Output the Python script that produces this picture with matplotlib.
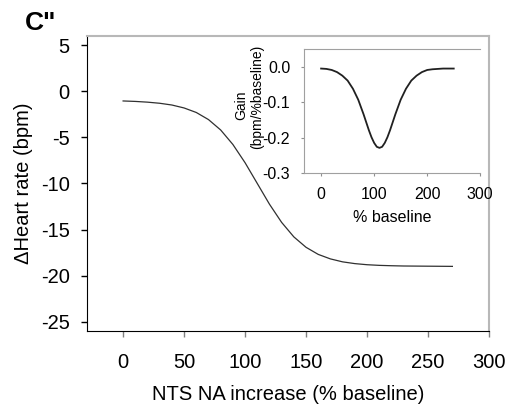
import matplotlib.pyplot as plt

plt.rcParams['font.family'] = ['Liberation Sans', 'DejaVu Sans']

# heart rate response vs NTS noradrenaline increase
nts_pct = [0, 10, 20, 30, 40, 50, 60, 70, 80, 90, 100, 110, 120, 130, 140,
           150, 160, 170, 180, 190, 200, 210, 220, 230, 240, 250, 260, 270]
dhr = [-1.05, -1.1, -1.18, -1.3, -1.49, -1.81, -2.3, -3.07, -4.2, -5.77, -7.75,
       -10.0, -12.25, -14.23, -15.8, -16.93, -17.7, -18.19, -18.51, -18.7,
       -18.82, -18.89, -18.93, -18.96, -18.97, -18.98, -18.99, -19.0]

# gain curve (slope of the response)
gain_pct = [0, 10, 20, 30, 40, 50, 60, 70, 80, 90, 95, 100, 105, 110, 115, 120,
            125, 130, 140, 150, 160, 170, 180, 190, 200, 210, 220, 230, 240, 250]
gain = [-0.005, -0.006, -0.009, -0.015, -0.025, -0.039, -0.062, -0.093, -0.134,
        -0.179, -0.199, -0.215, -0.226, -0.229, -0.226, -0.215, -0.199, -0.179,
        -0.134, -0.093, -0.062, -0.039, -0.025, -0.015, -0.009, -0.007, -0.006,
        -0.005, -0.005, -0.005]

main_xticks = [0, 50, 100, 150, 200, 250, 300]
main_yticks = [5, 0, -5, -10, -15, -20, -25]
inset_xticks = [0, 100, 200, 300]
inset_yticks = [0.0, -0.1, -0.2, -0.3]

fig = plt.figure(figsize=(5.12, 4.09), dpi=100)

# main panel
ax = fig.add_axes([0.169, 0.191, 0.786, 0.721])
ax.plot(nts_pct, dhr, color='#303030', lw=0.9)
ax.set_xlim(-30, 300)
ax.set_ylim(-26, 6)
ax.set_xticks(main_xticks)
ax.set_yticks(main_yticks)
ax.set_yticklabels([str(t) for t in main_yticks])
ax.tick_params(axis='both', labelsize=14.5, direction='out', length=4, width=1, pad=8)
ax.tick_params(axis='x', color='#808080', pad=12)
ax.spines['top'].set_color('#b8b8b8')
ax.spines['right'].set_color('#b8b8b8')
ax.spines['top'].set_linewidth(1.5)
ax.spines['right'].set_linewidth(1.5)
ax.set_xlabel('NTS NA increase (% baseline)', fontsize=14.5, labelpad=9)
ax.set_ylabel('\u0394Heart rate (bpm)', fontsize=14.5, labelpad=6)

fig.text(25 / 512, 1 - 23 / 409, 'C"', fontsize=19, fontweight='bold', va='center')

# inset: gain
axin = fig.add_axes([0.594, 0.577, 0.344, 0.303])
axin.plot(gain_pct, gain, color='#202020', lw=1.3)
axin.set_xlim(-32, 300)
axin.set_ylim(-0.3, 0.05)
axin.set_xticks(inset_xticks)
axin.set_yticks(inset_yticks)
axin.set_yticklabels(['0.0', '-0.1', '-0.2', '-0.3'])
axin.tick_params(axis='both', labelsize=11.5, direction='out', length=2,
                 color='#909090', pad=8)
axin.spines['right'].set_visible(False)
for s in ['top', 'bottom', 'left']:
    axin.spines[s].set_color('#a0a0a0')
axin.set_xlabel('% baseline', fontsize=11.5, labelpad=6)

fig.text(241 / 512, 1 - 105 / 409, 'Gain', fontsize=10, rotation=90,
         ha='center', va='center')
fig.text(257 / 512, 1 - 97 / 409, '(bpm/%baseline)', fontsize=10, rotation=90,
         ha='center', va='center')

fig.savefig('out.png', dpi=100)
